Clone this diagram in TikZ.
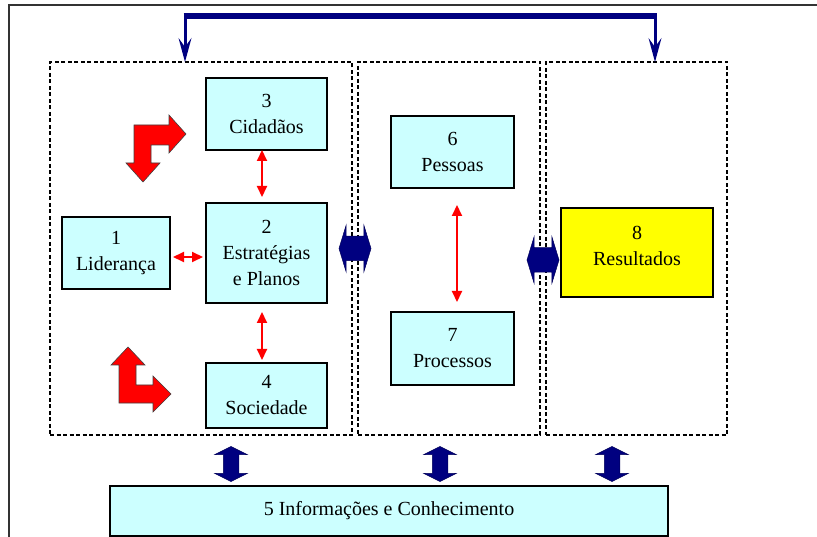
\documentclass[tikz,border=0pt]{standalone}
\usepackage{fontspec}
\setmainfont{Liberation Serif}
\usepackage{xcolor}
\usepackage{tikz}
\usetikzlibrary{arrows.meta, positioning, shapes.arrows, calc}

\definecolor{ciano}{RGB}{204,255,255}
\definecolor{amarelo}{RGB}{255,255,0}
\definecolor{marinho}{RGB}{0,0,128}

\begin{document}
\begin{tikzpicture}[
    x=1pt, y=-1pt,
    caixa/.style={draw, fill=ciano, line width=1.3pt, inner sep=0pt, outer sep=0pt,
                  align=center, font=\fontsize{20pt}{26pt}\selectfont},
    painel/.style={draw, dash pattern=on 4pt off 2.5pt, line width=1.1pt,
                   inner sep=0pt, outer sep=0pt},
    seta/.style={draw=red, line width=2pt,
                 {Triangle[length=11pt, width=10pt]}-{Triangle[length=11pt, width=10pt]}},
    ligH/.style={double arrow, fill=marinho, draw=marinho!70!black, line width=0.5pt,
                 inner xsep=0pt, inner ysep=12pt, minimum height=32pt,
                 double arrow head extend=11pt, double arrow tip angle=146},
    ligV/.style={double arrow, rotate=90, fill=marinho, draw=marinho!70!black, line width=0.5pt,
                 inner xsep=0pt, inner ysep=7.5pt, minimum height=35pt,
                 double arrow head extend=8.5pt, double arrow tip angle=127},
    topo/.style={draw=marinho, line width=3pt, line join=miter,
                 {Stealth[length=24pt, width=13pt, inset=9pt, line width=0pt]}-{Stealth[length=24pt, width=13pt, inset=9pt, line width=0pt]}},
    dobra/.style={fill=red, draw=black!75, line width=0.6pt, line join=miter},
    moldura/.style={draw=black!80, line width=2pt},
]
\useasboundingbox (0,0) rectangle (817,537);

% === Frame ===
\draw[moldura] (9,537) |- (817,5);

% === Dashed panels ===
\node[painel, minimum width=302pt, minimum height=373pt] (pA) at (201,248.5) {};
\node[painel, minimum width=182pt, minimum height=373pt] (pB) at (449,248.5) {};
\node[painel, minimum width=181pt, minimum height=373pt] (pC) at (636.5,248.5) {};

% === Left panel ===
\node[caixa, minimum width=121pt, minimum height=72pt] (cid) at (266.5,114) {3\\Cidadãos};
\node[caixa, minimum width=121pt, minimum height=100pt, below=53pt of cid] (est) {2\\Estratégias\\e Planos};
\node[caixa, minimum width=121pt, minimum height=65pt, below=60pt of est] (soc) {4\\Sociedade};
\node[caixa, minimum width=108pt, minimum height=72pt, left=36pt of est] (lid) {1\\Liderança};

\draw[seta, shorten >=6pt] ([xshift=-4.5pt]cid.south) -- ([xshift=-4.5pt]est.north);
\draw[seta, shorten <=9pt, shorten >=3pt] ([xshift=-4.5pt]est.south) -- ([xshift=-4.5pt]soc.north);
\draw[seta, shorten <=3pt, shorten >=3pt] ([yshift=-4pt]lid.east) -- ([yshift=-4pt]lid.east -| est.west);

% red bent arrows
\draw[dobra] (126,163) -- (143,182) -- (160,163) -- (151,163) -- (151,145) -- (169,145)
    -- (169,153) -- (186,134) -- (169,115) -- (169,125) -- (134,125) -- (134,163) -- cycle;
\draw[dobra] (111,365) -- (128,347) -- (145,365) -- (136,365) -- (136,385) -- (153,385)
    -- (153,376) -- (171,394) -- (153,412) -- (153,403) -- (119,403) -- (119,365) -- cycle;

% === Middle panel ===
\node[caixa, minimum width=123pt, minimum height=72pt] (pes) at (452.5,152) {6\\Pessoas};
\node[caixa, minimum width=123pt, minimum height=73pt, below=124pt of pes] (pro) {7\\Processos};

\draw[seta, shorten <=17pt, shorten >=10pt] ([xshift=4.5pt]pes.south) -- ([xshift=4.5pt]pro.north);

% === Right panel ===
\node[caixa, fill=amarelo, minimum width=152pt, minimum height=89pt] (res) at (637,252.5) {};
\node[align=center, font=\fontsize{20pt}{26pt}\selectfont] (resT) at ([yshift=7pt]res.center) {8\\Resultados};

% === Bottom box ===
\node[caixa, minimum width=558pt, minimum height=50pt] (inf) at (389,511) {5 Informações e Conhecimento};

% === Blue links ===
\node[ligH] (ligAB) at ($(pA.east)!0.5!(pB.west)$) {};
\node[ligH] (ligBC) at ($(pB.east)!0.5!(pC.west)+(0,11.5)$) {};

\node[ligV] (ligA5) at ($(pA.south)+(30,29)$) {};
\node[ligV] (ligB5) at ($(pB.south)+(-9,29)$) {};
\node[ligV] (ligC5) at ($(pC.south)+(-24.5,29)$) {};

% === Top feedback ===
\coordinate (barra) at (420,16);
\draw[topo] ([xshift=-16pt]pA.north) |- (barra) -| ([xshift=18.5pt]pC.north);
\draw[marinho, line width=5.5pt] ([xshift=-17.5pt]pA.north |- barra) -- ([xshift=20pt]pC.north |- barra);

\end{tikzpicture}
\end{document}
